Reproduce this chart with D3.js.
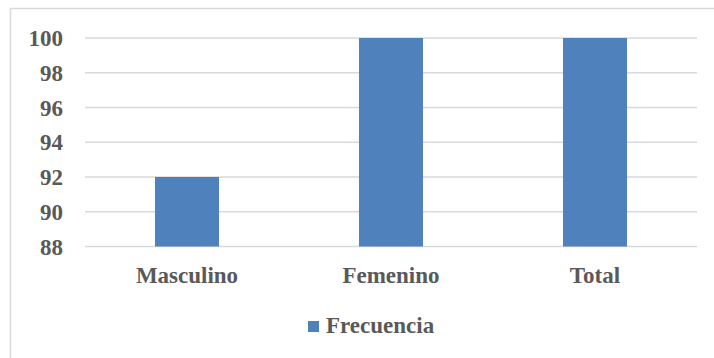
<!DOCTYPE html>
<html>
<head>
<meta charset="utf-8">
<script src="https://cdn.jsdelivr.net/npm/d3@7"></script>
<style>
  body { margin: 0; background: #fff; }
  text { font-family: "Liberation Serif", "Times New Roman", serif; font-weight: bold; fill: #595959; }
</style>
</head>
<body>
<svg id="chart" width="714" height="358"></svg>
<script>
// data
const categories = ["Masculino", "Femenino", "Total"]
const values = [92, 100, 100]
const yTicks = [88, 90, 92, 94, 96, 98, 100]
const seriesName = "Frecuencia"

const svg = d3.select("#chart")
const barColor = "#4F81BD"

// chart border (right and bottom edges fall outside the picture)
svg.append("rect")
  .attr("x", 10.5).attr("y", 8.5)
  .attr("width", 720).attr("height", 360)
  .attr("fill", "none").attr("stroke", "#d9d9d9").attr("stroke-width", 1.5)

const x = d3.scaleBand().domain(categories).range([85, 697])
  .paddingInner(0.686).paddingOuter(0.343)
const y = d3.scaleLinear().domain([88, 100]).range([246.5, 38])

// gridlines
svg.append("g").selectAll("line").data(yTicks).enter().append("line")
  .attr("x1", 85).attr("x2", 697)
  .attr("y1", d => y(d)).attr("y2", d => y(d))
  .attr("stroke", "#d9d9d9").attr("stroke-width", 1.5)

// y tick labels
svg.append("g").selectAll("text").data(yTicks).enter().append("text")
  .attr("x", 63).attr("y", d => y(d) + 8)
  .attr("text-anchor", "end")
  .style("font-size", "23px")
  .text(d => d)

// bars
svg.append("g").selectAll("rect").data(values).enter().append("rect")
  .attr("x", (d, i) => x(categories[i]))
  .attr("width", x.bandwidth())
  .attr("y", d => y(d))
  .attr("height", d => y(88) - y(d))
  .attr("fill", barColor)

// category labels
svg.append("g").selectAll("text").data(categories).enter().append("text")
  .attr("x", d => x(d) + x.bandwidth() / 2)
  .attr("y", 283)
  .attr("text-anchor", "middle")
  .style("font-size", "23px")
  .text(d => d)

// legend
svg.append("rect")
  .attr("x", 308).attr("y", 321).attr("width", 11).attr("height", 11)
  .attr("fill", barColor)
svg.append("text")
  .attr("x", 326).attr("y", 333)
  .style("font-size", "23px")
  .text(seriesName)
</script>
</body>
</html>
